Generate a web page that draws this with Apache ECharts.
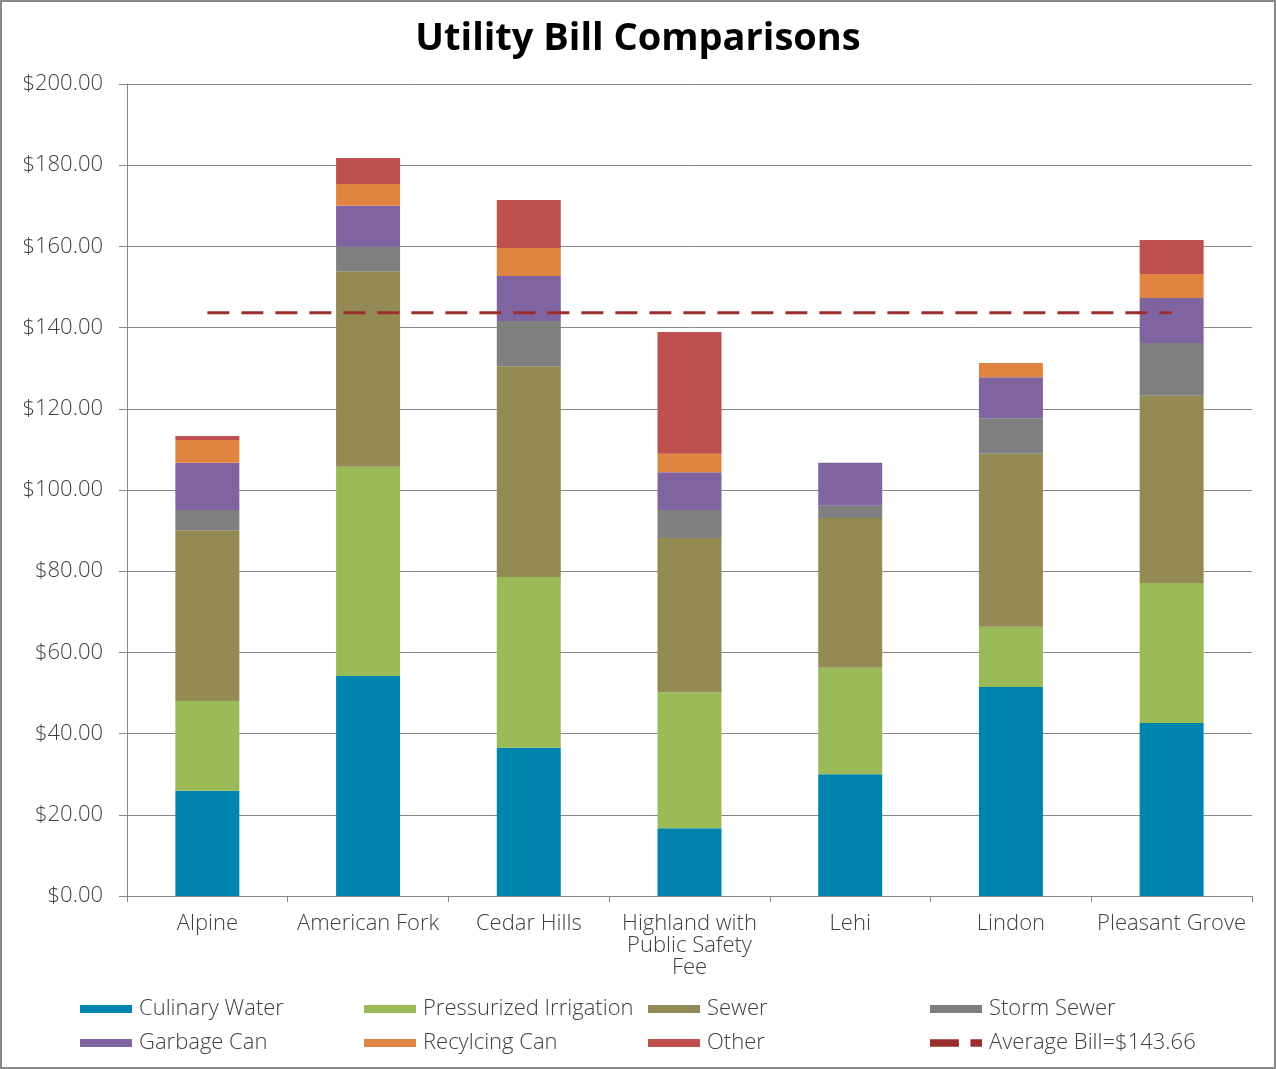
<!DOCTYPE html>
<html><head><meta charset="utf-8">
<script src="https://cdn.jsdelivr.net/npm/echarts@6/dist/echarts.min.js"></script>
<style>html,body{margin:0;padding:0;background:#fff}#c{width:1276px;height:1069px}</style>
</head><body><div id="c"></div>
<script>
const categories = ['Alpine','American Fork','Cedar Hills','Highland with\nPublic Safety\nFee','Lehi','Lindon','Pleasant Grove'];
const culinaryWater = [25.9, 54.2, 36.5, 16.7, 30.0, 51.5, 42.6];
const pressurizedIrrigation = [22.1, 51.5, 42.1, 33.5, 26.2, 14.8, 34.5];
const sewer = [42.1, 48.2, 51.9, 38.0, 36.9, 42.6, 46.1];
const stormSewer = [5.0, 6.0, 11.1, 6.9, 3.0, 8.8, 13.0];
const garbageCan = [11.6, 10.1, 11.1, 9.3, 10.6, 10.1, 11.1];
const recyclingCan = [5.6, 5.4, 6.9, 4.5, 0, 3.5, 5.9];
const other = [1.0, 6.4, 11.8, 30.0, 0, 0, 8.4];
const averageBill = 143.66;
const averageLine = categories.map(() => averageBill);
const yTicks = {min: 0, max: 200, interval: 20};

const FONT = 'Open Sans';
const txt = '#404040';
const FS = 22;
const barDefs = [
  ['Culinary Water', culinaryWater, '#0085AE'],
  ['Pressurized Irrigation', pressurizedIrrigation, '#9BBB59'],
  ['Sewer', sewer, '#948A54'],
  ['Storm Sewer', stormSewer, '#7F7F7F'],
  ['Garbage Can', garbageCan, '#8064A2'],
  ['Recylcing Can', recyclingCan, '#DF8541'],
  ['Other', other, '#C0504D']
];
const avgName = 'Average Bill=$143.66';
const avgColor = '#9B2D2D';

const series = barDefs.map(([name, data, color]) => ({
  name, type: 'bar', stack: 'total', data, barWidth: 64,
  itemStyle: {color}, emphasis: {disabled: true}
}));
series.push({
  name: avgName, type: 'line', data: averageLine, symbol: 'none',
  lineStyle: {color: avgColor, width: 3, type: [22, 12]},
  itemStyle: {color: avgColor}, z: 10
});

const legendPos = [
  [80, 998], [364, 998], [648, 998], [930, 998],
  [80, 1032], [364, 1032], [648, 1032], [930, 1032]
];
const legendOrder = ['Culinary Water','Pressurized Irrigation','Sewer','Storm Sewer','Garbage Can','Recylcing Can','Other', avgName];
const legends = legendOrder.map((n, i) => ({
  left: legendPos[i][0], top: legendPos[i][1], padding: 0,
  itemWidth: 52, itemHeight: 8, itemGap: 0, selectedMode: false,
  data: [n === avgName ? {name: n, icon: 'path://M0,0 h30 v8 h-30 Z M42,0 h12 v8 h-12 Z'} : {name: n, icon: 'rect'}],
  textStyle: {fontFamily: FONT, fontWeight: 300, fontSize: FS, color: txt, padding: [0, 0, 0, 2]}
}));

const chart = echarts.init(document.getElementById('c'));
chart.setOption({
  animation: false,
  title: {text: 'Utility Bill Comparisons', left: 'center', top: 15,
    textStyle: {fontFamily: FONT, fontWeight: 'bold', fontSize: 38, color: '#000'}},
  legend: legends,
  graphic: [{type: 'rect', shape: {x: 1, y: 1, width: 1274, height: 1067},
    style: {fill: 'none', stroke: '#8a8a8a', lineWidth: 2}, silent: true}],
  grid: {left: 127, right: 24, top: 84, bottom: 173, containLabel: false},
  xAxis: {
    type: 'category', data: categories,
    axisLine: {lineStyle: {color: '#888', width: 1}},
    axisTick: {show: true, length: 6, lineStyle: {color: '#888'}},
    axisLabel: {fontFamily: FONT, fontWeight: 300, fontSize: FS, color: txt, margin: 17, lineHeight: 22, interval: 0}
  },
  yAxis: {
    type: 'value', min: yTicks.min, max: yTicks.max, interval: yTicks.interval,
    axisLine: {show: true, lineStyle: {color: '#888', width: 1}},
    axisTick: {show: true, length: 8, lineStyle: {color: '#888'}},
    splitLine: {lineStyle: {color: '#888', width: 1}},
    axisLabel: {fontFamily: FONT, fontWeight: 300, fontSize: FS, color: txt, margin: 24,
      formatter: v => '$' + v.toFixed(2)}
  },
  series
});
</script></body></html>
